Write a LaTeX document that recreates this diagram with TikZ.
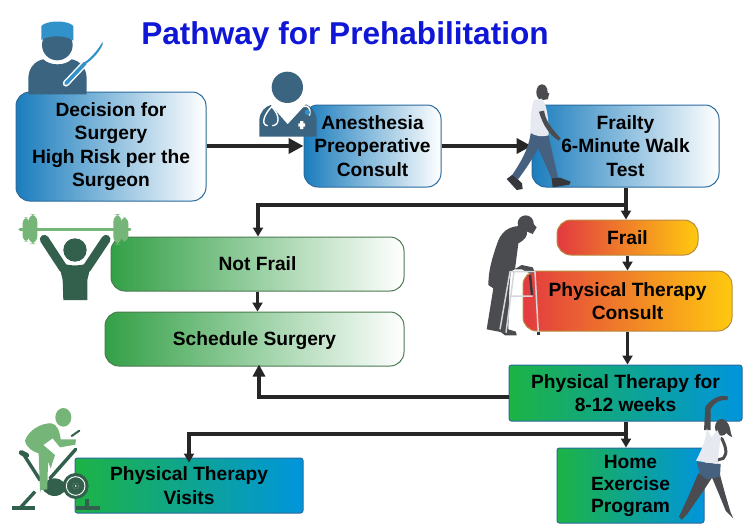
\documentclass[tikz,border=0pt]{standalone}
\usepackage{fontspec}
\setmainfont{Liberation Sans}
\usetikzlibrary{arrows.meta}
\definecolor{slate}{HTML}{3A6480}
\definecolor{capblue}{HTML}{3092C8}
\definecolor{bluebox}{HTML}{1B7DBD}
\definecolor{blueedge}{HTML}{2A6A9C}
\definecolor{greenbox}{HTML}{33A046}
\definecolor{greenedge}{HTML}{4C7A52}
\definecolor{redbox}{HTML}{E23A40}
\definecolor{goldbox}{HTML}{FFC90F}
\definecolor{goldedge}{HTML}{B98A3E}
\definecolor{tealleft}{HTML}{1DB345}
\definecolor{tealright}{HTML}{0095DC}
\definecolor{darkgreen}{HTML}{335F4D}
\definecolor{lightgreen}{HTML}{75B578}
\definecolor{wire}{HTML}{262626}
\definecolor{figgray}{HTML}{4A4C50}
\definecolor{jeans}{HTML}{46617F}
\definecolor{shoe}{HTML}{34383C}
\definecolor{shirt}{HTML}{E6EAF0}
\definecolor{tube}{HTML}{D4D6DA}
\tikzset{
  x=1pt,y=-1pt,
  boxtext/.style={font=\fontsize{19.2}{23.6}\selectfont\bfseries,align=center,text=black,inner sep=0pt},
  bluegrad/.style={boxtext,draw=blueedge,line width=1pt,rounded corners=14pt,left color=bluebox,right color=white},
  greengrad/.style={boxtext,draw=greenedge,line width=1pt,rounded corners=14pt,left color=greenbox,right color=white},
  warmgrad/.style={boxtext,draw=goldedge,line width=1pt,rounded corners=14pt,left color=redbox,right color=goldbox},
  tealgrad/.style={boxtext,draw=blueedge,line width=1pt,rounded corners=2.5pt,left color=tealleft,right color=tealright},
  wirebig/.style={draw=wire,line width=3.8pt,-{Triangle[length=15pt,width=15pt]}},
  wirereturn/.style={draw=wire,line width=3.8pt,-{Triangle[length=12pt,width=12pt]}},
  wiresmall/.style={draw=wire,line width=3.4pt,-{Triangle[length=9pt,width=10pt]}},
}
\begin{document}
\begin{tikzpicture}
\useasboundingbox[fill=white] (0,0) rectangle (750,525);

\node[font=\fontsize{31.6}{36}\selectfont\bfseries,text={rgb,255:red,16;green,22;blue,214},inner sep=0pt] (title) at (345,36) {Pathway for Prehabilitation};

% Boxes
\node[bluegrad,minimum width=190pt,minimum height=109pt] (decision) at (111,146.5) {Decision for\\Surgery\\High Risk per the\\Surgeon};
\node[bluegrad,minimum width=137pt,minimum height=82pt] (anes) at (372.5,146) {Anesthesia\\Preoperative\\Consult};
\node[bluegrad,minimum width=187pt,minimum height=82pt] (frailty) at (625.5,146) {Frailty\\6-Minute Walk\\Test};
\node[warmgrad,minimum width=141pt,minimum height=35pt] (frail) at (627.5,237.5) {Frail};
\node[warmgrad,minimum width=209pt,minimum height=60pt] (ptconsult) at (627.5,301) {Physical Therapy\\Consult};
\node[greengrad,minimum width=293pt,minimum height=54pt] (notfrail) at (257.5,264) {Not Frail};
\node[greengrad,text depth=0pt,minimum width=299pt,minimum height=54pt] (schedule) at (254.5,339) {Schedule Surgery};
\node[tealgrad,minimum width=233pt,minimum height=56pt] (pt812) at (625.5,393) {Physical Therapy for\\8-12 weeks};
\node[tealgrad,font=\fontsize{19.2}{22}\selectfont\bfseries,minimum width=147pt,minimum height=75pt] (home) at (630.5,485.5) {Home\\Exercise\\Program};
\node[tealgrad,minimum width=228pt,minimum height=55pt] (visits) at (189,485.5) {Physical Therapy\\Visits};

% Junction points on the trunk lines
\coordinate (upper) at (626,205);
\coordinate (lower) at (626,434);
\coordinate (left1) at (258,205);
\coordinate (left2) at (189,434);
\coordinate (ret) at (259,397);

% Connectors
\draw[wirebig] (decision.east |- anes.west) -- (anes.west);
\draw[wirebig] (anes.east) -- (frailty.west);
\draw[wiresmall] (frailty.south -| upper) -- (frail.north -| upper);
\draw[wiresmall] (upper) -- (left1) -- (notfrail.north -| left1);
\draw[wiresmall] (frail.south) -- (ptconsult.north);
\draw[wiresmall] (ptconsult.south) -- (pt812.north -| ptconsult);
\draw[wiresmall] (notfrail.south) -- (schedule.north -| notfrail);
\draw[wirereturn] (pt812.west |- ret) -- (ret) -- ([yshift=2pt]schedule.south -| ret);
\draw[wiresmall] (pt812.south -| lower) -- (home.north -| lower);
\draw[wiresmall] (lower) -- (left2) -- ([yshift=-5pt]visits.north -| left2);

% Surgeon
\begin{scope}[scale=1/3]
\fill[slate] (85,283) -- (85,235) .. controls (85,205) and (105,182) .. (130,178) .. controls (150,198) and (195,198) .. (215,178) .. controls (240,182) and (260,205) .. (260,235) -- (260,283) -- cycle;
\fill[slate] (172,135) circle (46);
\fill[capblue] (124,120) -- (124,78) .. controls (140,60) and (205,60) .. (220,78) -- (220,122) .. controls (200,105) and (145,105) .. (124,120) -- cycle;
\draw[white,line width=6.5pt,line cap=round] (198,250) -- (255,190);
\draw[capblue,line width=3.6pt,line cap=round] (198,250) -- (255,190);
\fill[capblue] (255,186) .. controls (275,172) and (295,148) .. (308,125) -- (308,134) .. controls (298,155) and (280,176) .. (260,190) -- cycle;
\end{scope}

% Anesthesiologist
\begin{scope}[shift={(250,65)},scale=1/3]
\fill[slate] (112,67) circle (47);
\fill[slate] (28,215) -- (28,165) .. controls (30,140) and (45,125) .. (62,120) -- (113,178) -- (168,118) .. controls (185,125) and (198,140) .. (200,165) -- (200,215) -- cycle;
\draw[white,line width=1.4pt,line cap=round] (65,125) .. controls (45,145) and (30,178) .. (52,182) (65,125) .. controls (90,150) and (90,180) .. (68,182);
\draw[white,line width=1.4pt] (160,125) .. controls (172,118) and (185,130) .. (178,152);
\fill[capblue] (172,142) circle (8);
\fill[white] (145,175) rectangle (165,185) (150,168) rectangle (160,192);
\end{scope}

% Walking man
\begin{scope}[shift={(500,80)},scale=1/3]
\fill[figgray] (126,37) ellipse (17 and 24);
\fill[figgray] (120,30) -- (148,40) -- (143,58) -- (122,60) -- cycle;
\fill[jeans] (92,160) -- (145,162) .. controls (152,200) and (165,250) .. (175,297) -- (155,297) .. controls (140,260) and (125,230) .. (115,205) .. controls (95,240) and (75,270) .. (55,297) -- (35,287) .. controls (60,250) and (85,210) .. (92,160) -- cycle;
\fill[shoe] (36,285) -- (20,297) -- (50,330) -- (68,327) -- (66,310) -- (52,296) -- cycle;
\fill[shoe] (155,295) -- (180,293) -- (212,305) -- (208,314) -- (158,322) -- cycle;
\fill[shirt] (102,60) -- (125,56) .. controls (138,70) and (146,100) .. (146,166) .. controls (125,172) and (105,168) .. (91,158) .. controls (92,120) and (92,85) .. (102,60) -- cycle;
\fill[figgray] (117,95) -- (132,92) .. controls (138,120) and (145,135) .. (182,175) -- (176,182) .. controls (150,165) and (130,140) .. (117,95) -- cycle;
\end{scope}

% Man with a frame
\begin{scope}[shift={(480,210)},scale=1/3]
\fill[figgray] (137,40) circle (24);
\fill[figgray] (150,30) -- (170,52) -- (158,72) -- (135,62) -- cycle;
\fill[figgray] (118,48) .. controls (85,50) and (62,65) .. (50,105) .. controls (38,140) and (25,180) .. (25,225) -- (40,235) -- (20,358) -- (62,366) -- (75,376) -- (110,376) -- (108,365) -- (85,358) -- (88,235) -- (92,185) -- (125,165) -- (158,172) -- (165,188) -- (150,190) -- (125,178) -- (105,178) -- (115,100) .. controls (135,90) and (145,75) .. (140,62) -- cycle;
\draw[tube,line width=1.5pt,line join=round] (60,358) -- (90,185) -- (165,185) -- (175,372);
\draw[tube,line width=1.5pt] (78,368) -- (102,185) (88,258) -- (158,258);
\draw[shoe,line width=2.4pt] (150,195) -- (156,255);
\fill[shoe] (172,365) rectangle (179,376);
\end{scope}

% Lifter
\begin{scope}[shift={(0,200)},scale=1/3]
\draw[lightgreen,line width=3pt,line cap=round] (60,89) -- (390,89);
\fill[lightgreen,rounded corners=6pt] (68,52) rectangle (88,125);
\fill[lightgreen,rounded corners=8pt] (85,42) rectangle (112,132);
\fill[lightgreen,rounded corners=8pt] (340,42) rectangle (365,134);
\fill[lightgreen,rounded corners=6pt] (362,52) rectangle (385,125);
\fill[darkgreen] (225,150) circle (35);
\draw[darkgreen,line width=9pt,line cap=round,line join=round] (133,118) -- (190,205);
\draw[darkgreen,line width=9pt,line cap=round,line join=round] (318,118) -- (260,205);
\fill[darkgreen] (175,185) .. controls (205,200) and (245,200) .. (275,185) -- (262,240) -- (262,300) -- (190,300) -- (188,240) -- cycle;
\end{scope}

% Cyclist
\begin{scope}[shift={(10,400)},scale=1/3]
\draw[darkgreen,line width=3.4pt,line cap=round] (197,148) -- (120,235);
\draw[darkgreen,line width=3.4pt,line cap=round] (42,165) -- (90,240);
\draw[darkgreen,line width=5pt,line cap=round] (34,158) -- (50,166);
\draw[darkgreen,line width=3.4pt] (75,275) -- (32,322);
\fill[darkgreen] (5,317) rectangle (76,331);
\fill[darkgreen] (197,317) rectangle (270,331);
\fill[darkgreen] (224,298) rectangle (236,320);
\fill[darkgreen,rounded corners=14pt] (92,235) rectangle (175,288);
\fill[darkgreen] (197,258) circle (39);
\draw[white,line width=0.9pt] (197,258) circle (28);
\fill[white] (197,258) circle (9);
\draw[darkgreen,line width=2pt] (197,258) circle (6);
\fill[lightgreen] (160,52) ellipse (24 and 28);
\fill[lightgreen] (45,122) .. controls (55,90) and (95,68) .. (125,70) .. controls (140,72) and (150,95) .. (152,118) -- (198,118) -- (196,134) -- (150,142) -- (128,115) -- (100,135) -- (135,165) -- (122,205) -- (114,185) -- (112,268) -- (90,270) -- (86,160) .. controls (70,155) and (50,145) .. (45,122) -- cycle;
\draw[darkgreen,line width=2pt,line cap=round] (185,108) -- (208,92);
\end{scope}

% Stretching woman
\begin{scope}[shift={(480,350)},scale=1/3]
\fill[figgray] (672,240) -- (676,170) .. controls (695,145) and (720,132) .. (745,140) -- (742,150) .. controls (720,148) and (705,155) .. (692,178) -- (692,240) -- cycle;
\fill[figgray] (725,232) ellipse (20 and 25);
\fill[figgray] (735,212) .. controls (755,225) and (748,245) .. (757,262) .. controls (740,255) and (730,240) .. (730,225) -- cycle;
\draw[figgray,line width=3pt,line cap=round,line join=round] (725,265) .. controls (735,285) and (745,310) .. (730,325) -- (695,335);
\fill[figgray] (655,370) -- (625,440) -- (597,500) -- (605,510) -- (622,492) -- (665,430) -- (695,385) -- cycle;
\fill[figgray] (695,380) -- (720,440) -- (737,482) -- (760,505) -- (752,488) -- (735,430) -- (720,375) -- cycle;
\fill[jeans] (650,335) -- (722,342) -- (720,380) -- (680,388) -- (660,372) -- cycle;
\fill[shirt] (680,235) -- (695,262) -- (712,240) -- (722,262) -- (712,342) -- (648,332) .. controls (665,300) and (678,270) .. (680,235) -- cycle;
\end{scope}
\end{tikzpicture}
\end{document}
